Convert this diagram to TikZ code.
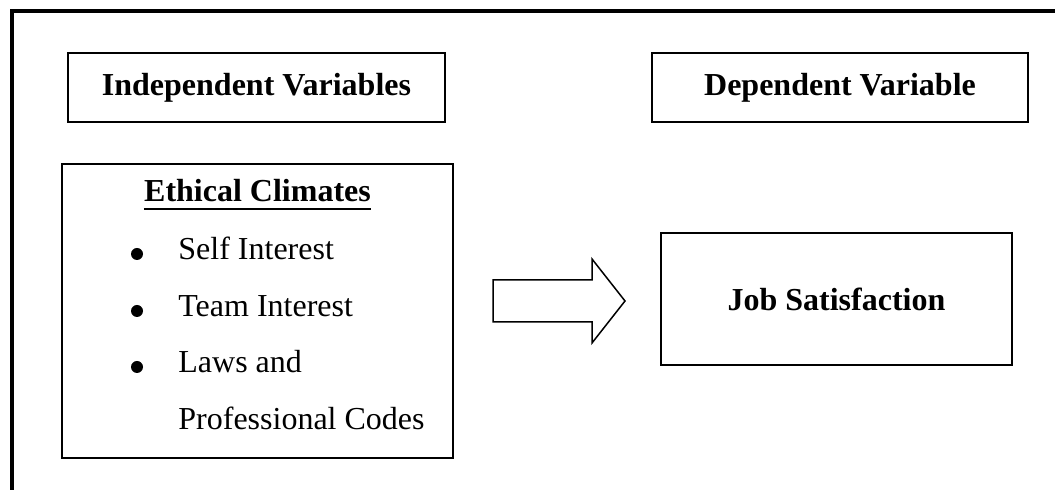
\documentclass[tikz,border=0pt]{standalone}
\usepackage{fontspec}
\setmainfont{Liberation Serif}
\usetikzlibrary{positioning}
\tikzset{
    box/.style={
        draw,
        line width=0.9pt,
        align=center,
        font=\fontsize{16}{19}\selectfont\bfseries
    },
    entry/.style={
        inner sep=0pt,
        anchor=base west,
        font=\fontsize{16}{19}\selectfont
    },
    blockarrow/.style={
        draw,
        line width=0.75pt,
        line join=miter
    }
}

\begin{document}
\begin{tikzpicture}[x=0.5pt, y=-0.5pt]

    \useasboundingbox (0,0) rectangle (1055,490);

    % outer frame
    \draw[line width=1.6pt] (12,490) -- (12,11) -- (1055,11);

    \node[box, minimum width=188.5pt, minimum height=34.5pt] (indep) at (256.5,87.5) {Independent Variables};
    \node[box, minimum width=188pt, minimum height=34.5pt] (dep) at (840,87.5) {Dependent Variable};

    \node[box, minimum width=195.5pt, minimum height=147pt] (ethical) at (257.5,311) {};
    \node[box, minimum width=175.5pt, minimum height=66pt] (job) at (836.5,299) {Job Satisfaction};

    % list inside the ethical climates box
    \node[entry, anchor=base, font=\fontsize{16}{19}\selectfont\bfseries] (header) at (257.5,202) {Ethical Climates};
    \draw[line width=1.2pt] ([yshift=-3.5pt]header.base west) -- ([yshift=-3.5pt]header.base east);

    \foreach \name/\base/\txt in {self/260/Self Interest, team/317/Team Interest, laws/373/Laws and}
    {
        \node[entry] (\name) at (178,\base) {\txt};
        \fill (137,\base-6) circle (3pt);
    }
    \node[entry] (codes) at (178,430) {Professional Codes};

    % block arrow
    \draw[blockarrow] (493,280) -- (592,280) -- (592,259) -- (625,301)
        -- (592,343) -- (592,322) -- (493,322) -- cycle;

\end{tikzpicture}
\end{document}
